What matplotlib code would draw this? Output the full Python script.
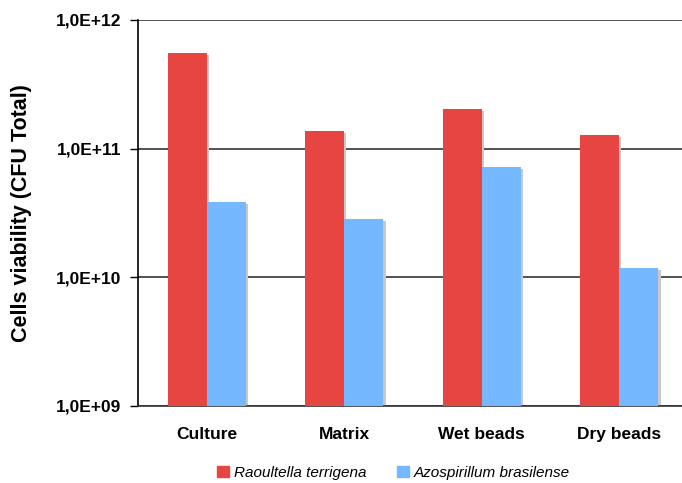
import matplotlib.pyplot as plt
from matplotlib.ticker import FixedLocator, NullLocator
from matplotlib.patches import Patch

categories = ["Culture", "Matrix", "Wet beads", "Dry beads"]
raoultella = [5.5e11, 1.37e11, 2.03e11, 1.28e11]
azospirillum = [3.85e10, 2.84e10, 7.2e10, 1.18e10]
series_names = ["Raoultella terrigena", "Azospirillum brasilense"]
ytick_vals = [1e9, 1e10, 1e11, 1e12]
ytick_labels = ["1,0E+09", "1,0E+10", "1,0E+11", "1,0E+12"]

red = "#E64541"
blue = "#75B8FF"

plt.rcParams['font.family'] = ['Liberation Sans', 'DejaVu Sans']

fig = plt.figure(figsize=(6.82, 4.83), dpi=100)
ax = fig.add_axes([138 / 682, 1 - 406 / 483, 550 / 682, 386 / 483])
ax.set_yscale('log')
ax.set_ylim(1e9, 1e12)
ax.set_xlim(-0.5, 3.5)

w = 0.285
xs = range(len(categories))
# gray drop shadows behind each bar
for i in xs:
    for off, v in ((-w / 2, raoultella[i]), (w / 2, azospirillum[i])):
        ax.bar(i + off + 0.015, v * 0.97, width=w, color="#C8C8C8", zorder=2)
ax.bar([i - w / 2 for i in xs], raoultella, width=w, color=red, zorder=3)
ax.bar([i + w / 2 for i in xs], azospirillum, width=w, color=blue, zorder=3)

ax.yaxis.set_major_locator(FixedLocator(ytick_vals))
ax.yaxis.set_minor_locator(NullLocator())
ax.set_yticklabels(ytick_labels, fontsize=12.5, fontweight='bold')
ax.grid(axis='y', color='#333333', linewidth=1.2, zorder=1)
ax.set_xticks(list(xs))
ax.set_xticklabels(categories, fontsize=12.5, fontweight='bold')
ax.tick_params(axis='x', length=0, pad=15)
ax.tick_params(axis='y', length=6, width=1, direction='out', pad=6)

for s in ('top', 'right'):
    ax.spines[s].set_visible(False)
ax.spines['left'].set_color('black')
ax.spines['left'].set_linewidth(1.2)
ax.spines['bottom'].set_color('#333333')
ax.spines['bottom'].set_linewidth(1.2)

ax.set_ylabel("Cells viability (CFU Total)", fontsize=15.5, fontweight='bold', labelpad=17)

handles = [Patch(color=red), Patch(color=blue)]
fig.legend(handles, series_names, loc='lower center', bbox_to_anchor=(0.577, -0.022),
           ncol=2, frameon=False, prop={'style': 'italic', 'size': 11},
           handlelength=0.8, handleheight=0.8, handletextpad=0.3, columnspacing=2.0)

fig.savefig("out.png", dpi=100)
